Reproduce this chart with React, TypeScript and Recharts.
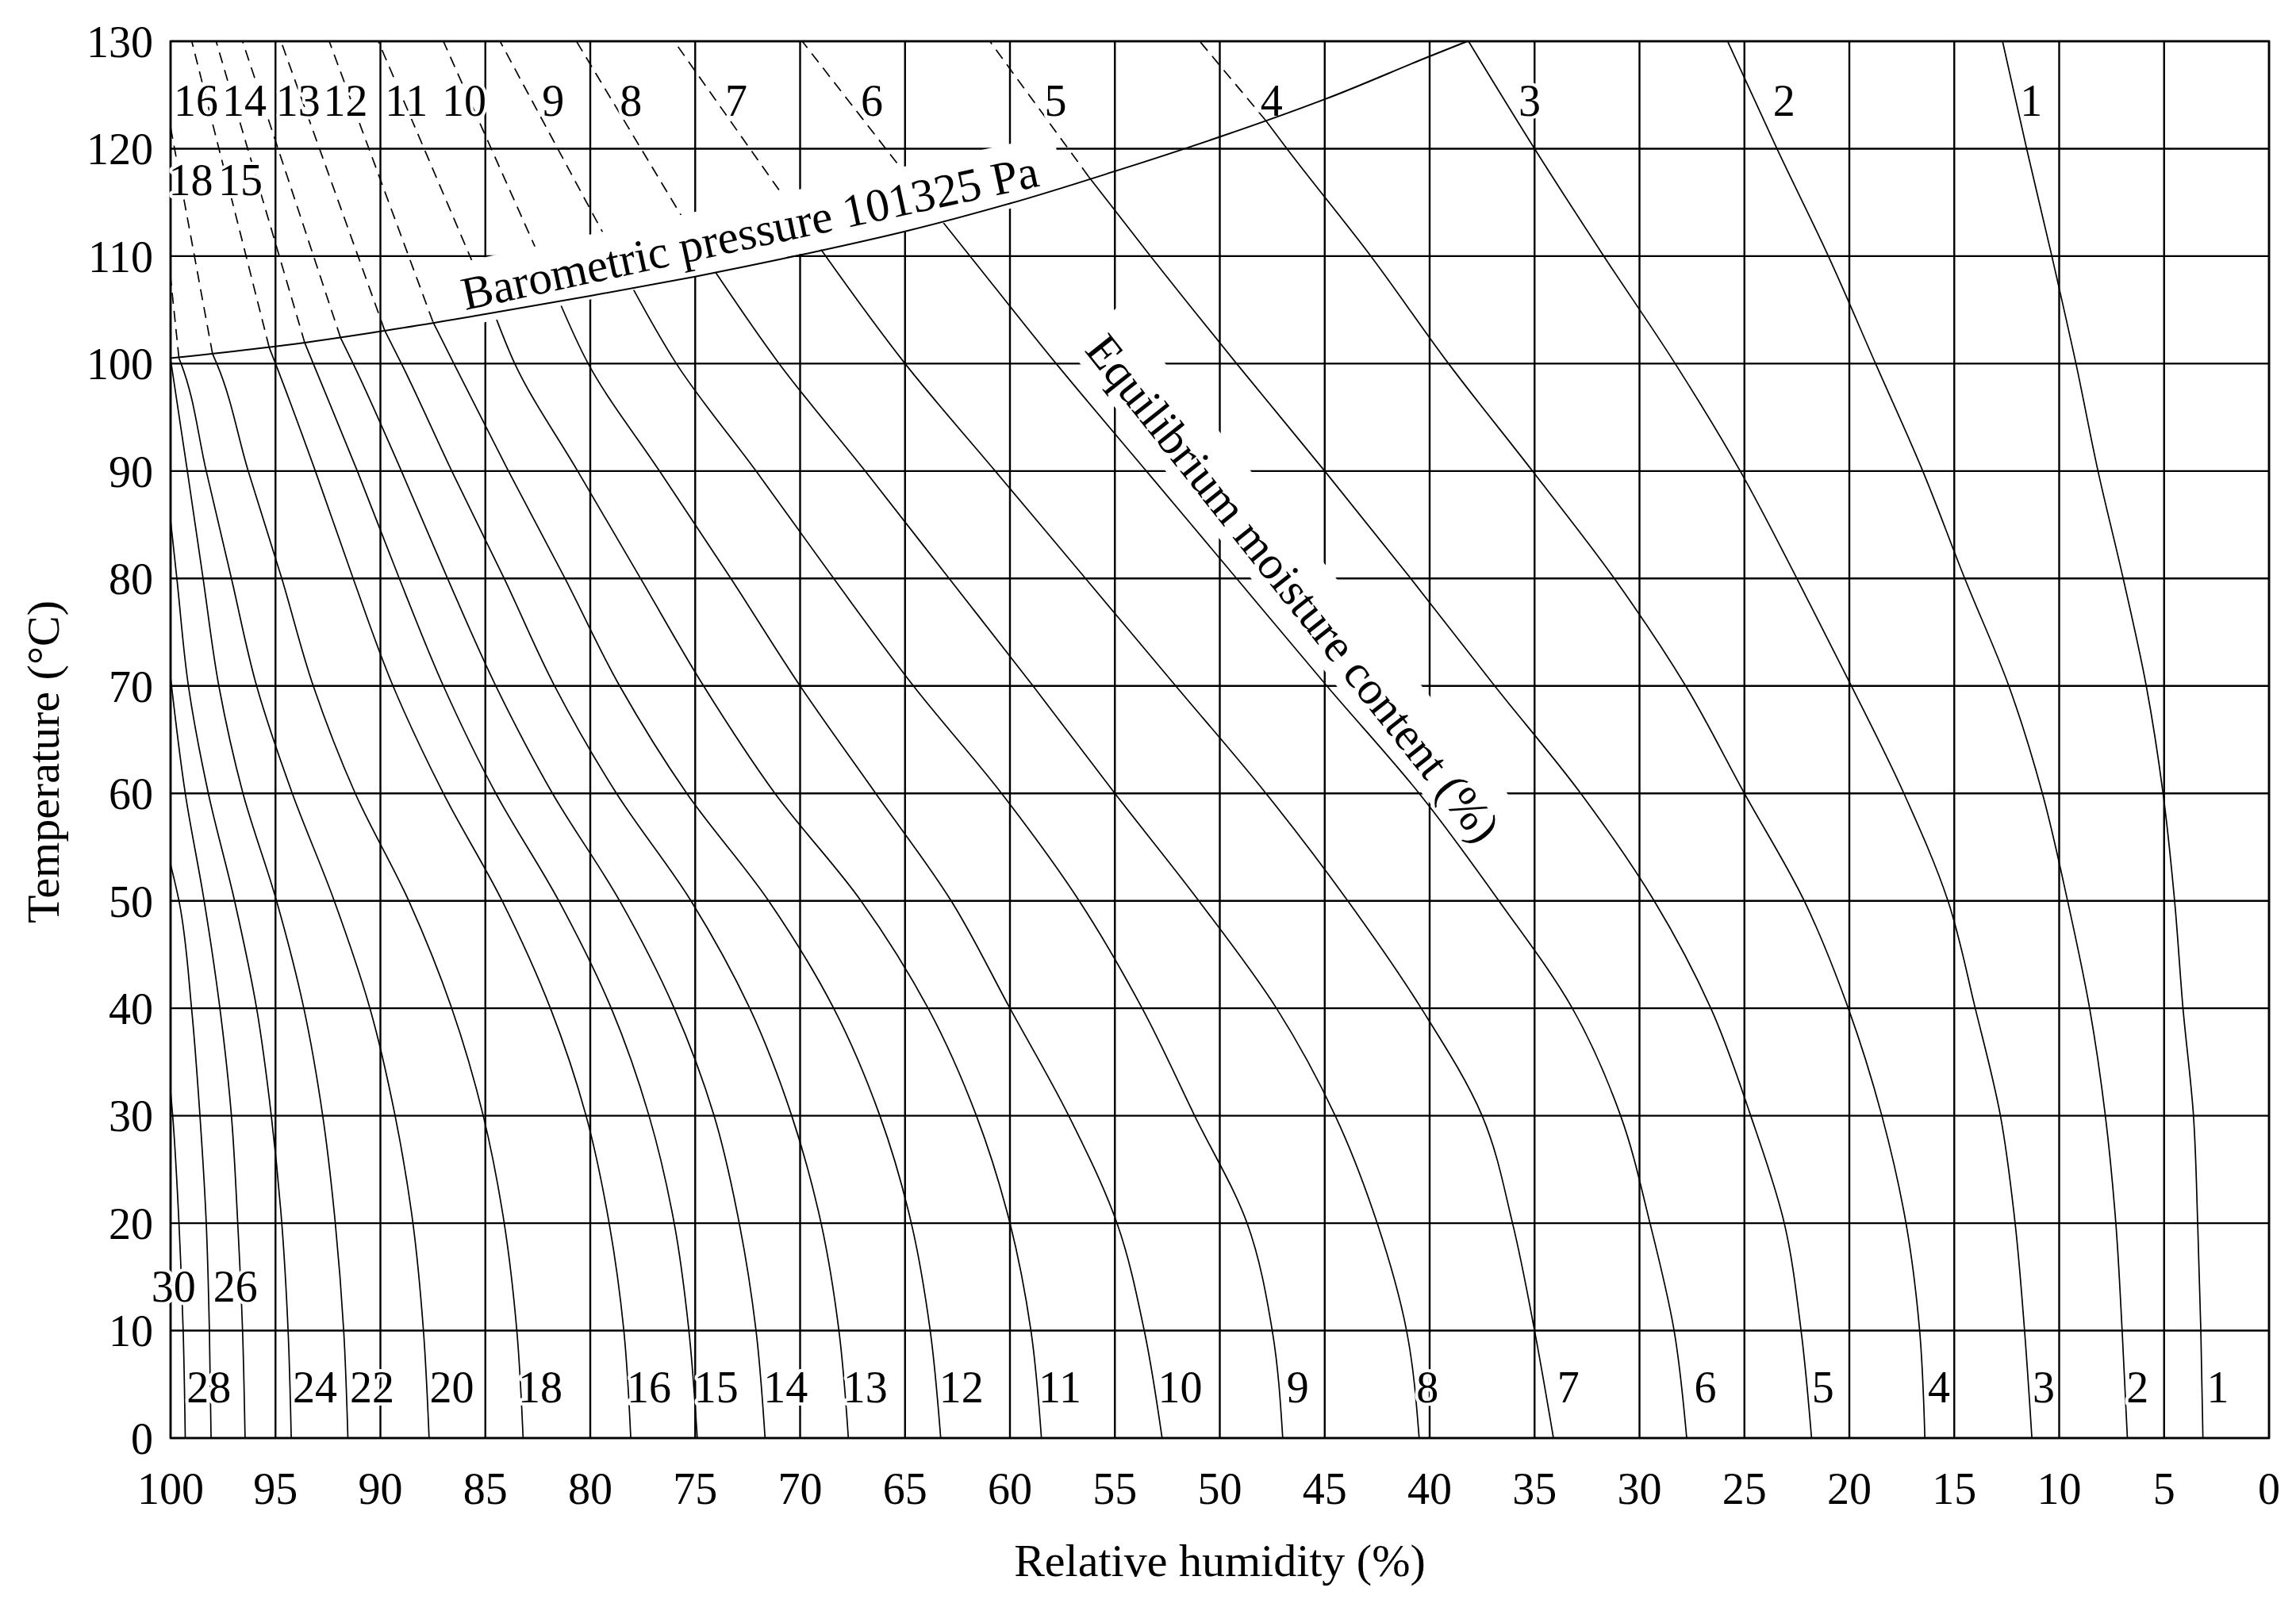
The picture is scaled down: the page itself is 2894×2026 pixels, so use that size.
import React from "react";
import {
  CartesianGrid,
  ComposedChart,
  Label,
  Line,
  ReferenceArea,
  Scatter,
  XAxis,
  YAxis
} from "recharts";

// every curve point is [temperature °C, relative humidity %]
type Pt = [number, number];

const rhTicks = [0, 5, 10, 15, 20, 25, 30, 35, 40, 45, 50, 55, 60, 65, 70, 75, 80, 85, 90, 95, 100];
const tempTicks = [0, 10, 20, 30, 40, 50, 60, 70, 80, 90, 100, 110, 120, 130];

// saturation limit at 101325 Pa
const barometric: Pt[] = [
  [100.5, 100], [101.6, 95], [103.0, 90], [104.6, 85], [106.3, 80], [108.1, 75], [110.1, 70],
  [112.3, 65], [114.9, 60], [117.9, 55], [121.1, 50], [124.6, 45], [128.6, 40], [130, 38.2]
];

// equilibrium moisture content curves (solid part)
const emc1: Pt[] = [[0, 3.15], [10, 3.25], [20, 3.4], [30, 3.6], [40, 4.1], [50, 4.5], [60, 5.05], [70, 5.85], [80, 6.95], [90, 8.15], [100, 9.2], [110, 10.35], [120, 11.55], [130, 12.7]];
const emc2: Pt[] = [[0, 6.75], [10, 7.0], [20, 7.3], [30, 7.8], [40, 8.55], [50, 9.6], [60, 10.8], [70, 12.4], [80, 14.5], [90, 16.5], [100, 18.75], [110, 21.0], [120, 23.45], [130, 25.8]];
const emc3: Pt[] = [[0, 11.3], [10, 11.65], [20, 12.1], [30, 12.8], [40, 14.0], [50, 15.3], [60, 17.4], [70, 19.9], [80, 22.5], [90, 25.2], [100, 28.3], [110, 31.7], [120, 35.0], [130, 38.15]];
const emc4: Pt[] = [[0, 16.4], [10, 16.65], [20, 17.3], [30, 18.45], [40, 20.05], [50, 22.15], [60, 25.0], [70, 27.8], [80, 31.2], [90, 35.1], [100, 39.1], [110, 42.8], [120, 46.8], [122.6, 47.8]];
const emc5: Pt[] = [[0, 21.8], [10, 22.3], [20, 23.1], [30, 24.7], [40, 26.6], [50, 29.3], [60, 32.8], [70, 36.9], [80, 40.9], [90, 45.0], [100, 49.2], [110, 53.3], [117.4, 56.25]];
const emc6: Pt[] = [[0, 27.75], [10, 28.35], [20, 29.5], [30, 30.9], [40, 33.2], [50, 36.7], [60, 40.5], [70, 44.9], [80, 49.2], [90, 53.5], [100, 57.8], [110, 61.9], [113.3, 63.25]];
const emc7: Pt[] = [[0, 34.1], [10, 35.0], [20, 36.05], [30, 37.5], [40, 40.4], [50, 43.9], [60, 47.8], [70, 52.1], [80, 56.4], [90, 60.7], [100, 65.0], [110.6, 69.0]];
const emc8: Pt[] = [[0, 40.5], [10, 41.1], [20, 42.5], [30, 44.5], [40, 47.3], [50, 51.0], [60, 55.0], [70, 58.9], [80, 62.9], [90, 66.9], [100, 71.0], [108.7, 74.1]];
const emc9: Pt[] = [[0, 47.0], [10, 47.5], [20, 48.7], [30, 51.2], [40, 53.7], [50, 56.7], [60, 60.4], [70, 64.6], [80, 68.4], [90, 72.1], [100, 75.9], [107.1, 78.0]];
const emc10: Pt[] = [[0, 52.75], [10, 53.6], [20, 54.9], [30, 57.2], [40, 60.0], [50, 62.8], [60, 66.4], [70, 70.0], [80, 73.3], [90, 76.7], [100, 80.1], [105.9, 81.5]];
const emc11: Pt[] = [[0, 58.5], [10, 59.0], [20, 60.0], [30, 61.6], [40, 63.9], [50, 67.1], [60, 71.2], [70, 74.6], [80, 77.6], [90, 80.6], [100, 83.6], [104.8, 84.6]];
const emc12: Pt[] = [[0, 63.3], [10, 63.8], [20, 64.7], [30, 66.2], [40, 68.4], [50, 71.5], [60, 75.4], [70, 78.6], [80, 81.2], [90, 83.9], [100, 86.5], [103.9, 87.5]];
const emc13: Pt[] = [[0, 67.7], [10, 68.15], [20, 69.0], [30, 70.4], [40, 72.4], [50, 75.2], [60, 78.75], [70, 81.7], [80, 84.1], [90, 86.6], [100, 89.0], [103.1, 89.8]];
const emc14: Pt[] = [[0, 71.67], [10, 72.1], [20, 72.9], [30, 74.1], [40, 76.0], [50, 78.6], [60, 81.8], [70, 84.5], [80, 86.8], [90, 89.0], [100, 91.3], [102.4, 91.9]];
const emc15: Pt[] = [[0, 74.9], [10, 75.3], [20, 76.0], [30, 77.2], [40, 79.0], [50, 81.5], [60, 84.5], [70, 87.0], [80, 89.1], [90, 91.1], [100, 93.2], [101.9, 93.6]];
const emc16: Pt[] = [[0, 78.07], [10, 78.4], [20, 79.1], [30, 80.2], [40, 81.9], [50, 84.2], [60, 87.0], [70, 89.4], [80, 91.3], [90, 93.1], [100, 95.0], [101.5, 95.3]];
const emc18: Pt[] = [[0, 83.2], [10, 83.5], [20, 84.1], [30, 85.1], [40, 86.6], [50, 88.65], [60, 91.2], [70, 93.2], [80, 94.7], [90, 96.3], [100, 97.8], [100.9, 98.0]];
const emc20: Pt[] = [[0, 87.68], [10, 87.95], [20, 88.45], [30, 89.3], [40, 90.5], [50, 92.2], [60, 94.2], [70, 95.9], [80, 97.1], [90, 98.3], [100, 99.5], [100.5, 99.6]];
const emc22: Pt[] = [[0, 91.55], [10, 91.75], [20, 92.15], [30, 92.75], [40, 93.65], [50, 94.95], [60, 96.55], [70, 97.7], [80, 98.45], [90, 99.2], [100.4, 100]];
const emc24: Pt[] = [[0, 94.25], [10, 94.4], [20, 94.7], [30, 95.2], [40, 95.9], [50, 96.95], [60, 98.2], [70, 99.15], [80, 99.7], [85.4, 100]];
const emc26: Pt[] = [[0, 96.45], [10, 96.57], [20, 96.8], [30, 97.1], [40, 97.65], [50, 98.4], [60, 99.3], [70.8, 100]];
const emc28: Pt[] = [[0, 98.07], [10, 98.15], [20, 98.3], [30, 98.6], [40, 99.0], [50, 99.6], [53.4, 100]];
const emc30: Pt[] = [[0, 99.3], [10, 99.4], [20, 99.6], [30, 99.9], [32.3, 100]];

// dashed continuation above the 101325 Pa line
const above4: Pt[] = [[122.6, 47.8], [130, 50.96]];
const above5: Pt[] = [[117.4, 56.25], [130, 60.96]];
const above6: Pt[] = [[113.3, 63.25], [130, 69.9]];
const above7: Pt[] = [[110.6, 69.0], [130, 76.0]];
const above8: Pt[] = [[108.7, 74.1], [130, 80.66]];
const above9: Pt[] = [[107.1, 78.0], [130, 84.3]];
const above10: Pt[] = [[105.9, 81.5], [130, 87.0]];
const above11: Pt[] = [[104.8, 84.6], [130, 90.1]];
const above12: Pt[] = [[103.9, 87.5], [130, 92.44]];
const above13: Pt[] = [[103.1, 89.8], [130, 94.74]];
const above14: Pt[] = [[102.4, 91.9], [130, 96.57]];
const above15: Pt[] = [[101.9, 93.6], [130, 97.83]];
const above16: Pt[] = [[101.5, 95.3], [130, 98.99]];
const above18: Pt[] = [[100.9, 98.0], [122, 100]];
const above20: Pt[] = [[100.5, 99.6], [108, 100]];

const solidCurves: Pt[][] = [
  emc1, emc2, emc3, emc4, emc5, emc6, emc7, emc8, emc9, emc10, emc11, emc12,
  emc13, emc14, emc15, emc16, emc18, emc20, emc22, emc24, emc26, emc28, emc30
];
const dashedCurves: Pt[][] = [
  above4, above5, above6, above7, above8, above9, above10, above11, above12,
  above13, above14, above15, above16, above18, above20
];

// curve labels: [text, relative humidity, temperature]
const topLabels: [string, number, number][] = [
  ["16", 98.79, 124.5], ["14", 96.48, 124.5], ["13", 93.92, 124.5], ["12", 91.66, 124.5],
  ["11", 88.76, 124.5], ["10", 86.01, 124.5], ["9", 81.77, 124.5], ["8", 78.06, 124.5],
  ["7", 73.04, 124.5], ["6", 66.58, 124.5], ["5", 57.83, 124.5], ["4", 47.53, 124.5],
  ["3", 35.24, 124.5], ["2", 23.11, 124.5], ["1", 11.33, 124.5],
  ["18", 99.04, 117.1], ["15", 96.67, 117.1]
];
const bottomLabels: [string, number, number][] = [
  ["30", 99.86, 14.1], ["26", 96.91, 14.1],
  ["28", 98.18, 4.7], ["24", 93.12, 4.7], ["22", 90.4, 4.7], ["20", 86.6, 4.7], ["18", 82.38, 4.7],
  ["16", 77.2, 4.7], ["15", 74.0, 4.7], ["14", 70.69, 4.7], ["13", 66.89, 4.7], ["12", 62.32, 4.7],
  ["11", 57.62, 4.7], ["10", 51.89, 4.7], ["9", 46.29, 4.7], ["8", 40.1, 4.7], ["7", 33.39, 4.7],
  ["6", 26.86, 4.7], ["5", 21.26, 4.7], ["4", 15.73, 4.7], ["3", 10.74, 4.7], ["2", 6.27, 4.7],
  ["1", 2.44, 4.7]
];

// rotated captions: [text, relative humidity, temperature]
const captions: [string, number, number][] = [
  ["Barometric pressure 101325 Pa", 72.4, 112.2],
  ["Equilibrium moisture content (%)", 46.5, 79.1]
];

const FONT = "'Liberation Serif', 'Times New Roman', serif";
// box behind each caption, in the caption's own rotated frame
const captionLook = [
  { angle: -12.2, w: 800, h: 80, shift: 0 },
  { angle: 51.5, w: 830, h: 84, shift: -8 }
];

const rows = (pts: Pt[]) => pts.map(([t, rh]) => ({ rh, t }));
const labelRows = [...topLabels, ...bottomLabels].map(([text, rh, t]) => ({ text, rh, t }));
const captionRows = captions.map(([text, rh, t], i) => ({ text, rh, t, i }));

const CurveLabel = (props: any) => {
  const { cx, cy, payload } = props;
  if (cx == null || cy == null) return <g />;
  return (
    <text
      x={cx}
      y={cy}
      textAnchor="middle"
      dominantBaseline="central"
      fontFamily={FONT}
      fontSize={56}
      fill="#000"
      stroke="#fff"
      strokeWidth={8}
      strokeLinejoin="round"
      paintOrder="stroke"
    >
      {payload.text}
    </text>
  );
};

const Caption = (props: any) => {
  const { cx, cy, payload } = props;
  if (cx == null || cy == null) return <g />;
  const look = captionLook[payload.i];
  return (
    <g transform={`rotate(${look.angle} ${cx} ${cy})`}>
      <rect x={cx - look.w / 2} y={cy - look.h / 2 + look.shift} width={look.w} height={look.h} fill="#fff" />
      <text x={cx} y={cy} textAnchor="middle" dominantBaseline="central" fontFamily={FONT} fontSize={59} fill="#000">
        {payload.text}
      </text>
    </g>
  );
};

const YTitle = (props: any) => {
  const vb = props.viewBox || { x: 47, y: 44, width: 160, height: 1761 };
  const x = vb.x - 1;
  const y = vb.y + vb.height / 2 + 28;
  return (
    <text
      x={x}
      y={y}
      transform={`rotate(-90 ${x} ${y})`}
      textAnchor="middle"
      dominantBaseline="central"
      fontFamily={FONT}
      fontSize={58}
      fill="#000"
    >
      Temperature (°C)
    </text>
  );
};

const tickStyle = { fill: "#000", fontSize: 56, fontFamily: FONT };

export default function App() {
  return (
    <div style={{ width: 2870, height: 2000, background: "#fff" }}>
      <ComposedChart width={2870} height={2000} margin={{ top: 44, right: 18, left: 47, bottom: 95 }}>
        <CartesianGrid stroke="#000" strokeWidth={2.4} />
        <XAxis
          type="number"
          dataKey="rh"
          domain={[0, 100]}
          reversed
          ticks={rhTicks}
          interval={0}
          axisLine={false}
          tickLine={false}
          tickSize={0}
          tickMargin={43}
          height={100}
          tick={tickStyle}
        >
          <Label
            value="Relative humidity (%)"
            position="bottom"
            offset={33}
            style={{ fill: "#000", fontSize: 58, fontFamily: FONT }}
          />
        </XAxis>
        <YAxis
          type="number"
          dataKey="t"
          domain={[0, 130]}
          ticks={tempTicks}
          interval={0}
          axisLine={false}
          tickLine={false}
          tickSize={0}
          tickMargin={22}
          width={160}
          tick={tickStyle}
        >
          <Label content={(p: any) => <YTitle {...p} />} />
        </YAxis>
        <ReferenceArea x1={0} x2={100} y1={0} y2={130} fill="none" stroke="#000" strokeWidth={2.6} ifOverflow="visible" />
        {solidCurves.map((pts, i) => (
          <Line
            key={`s${i}`}
            data={rows(pts)}
            dataKey="t"
            type="monotoneY"
            stroke="#000"
            strokeWidth={1.7}
            dot={false}
            activeDot={false}
            legendType="none"
            isAnimationActive={false}
          />
        ))}
        {dashedCurves.map((pts, i) => (
          <Line
            key={`d${i}`}
            data={rows(pts)}
            dataKey="t"
            type="linear"
            stroke="#000"
            strokeWidth={1.7}
            strokeDasharray="14 9"
            dot={false}
            activeDot={false}
            legendType="none"
            isAnimationActive={false}
          />
        ))}
        <Scatter data={captionRows} dataKey="t" shape={(p: any) => <Caption {...p} />} isAnimationActive={false} legendType="none" />
        <Line
          data={rows(barometric)}
          dataKey="t"
          type="monotoneY"
          stroke="#000"
          strokeWidth={2}
          dot={false}
          activeDot={false}
          legendType="none"
          isAnimationActive={false}
          {...({ zIndex: 700 } as any)}
        />
        <Scatter data={labelRows} dataKey="t" shape={(p: any) => <CurveLabel {...p} />} isAnimationActive={false} legendType="none" />
      </ComposedChart>
    </div>
  );
}
